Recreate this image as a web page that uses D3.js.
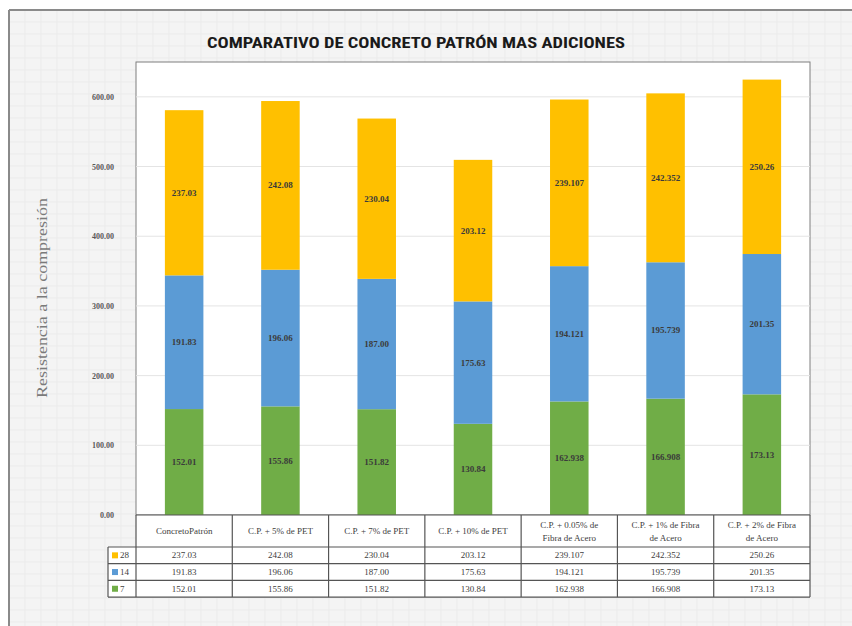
<!DOCTYPE html>
<html>
<head>
<meta charset="utf-8">
<script src="https://cdn.jsdelivr.net/npm/d3@7"></script>
<style>
  html, body { margin: 0; padding: 0; background: #ffffff; }
  svg { display: block; }
</style>
</head>
<body>
<svg id="chart" width="852" height="626"></svg>
<script>
// Mix designs compared in the chart (also the data-table header)
const categories = [
  "ConcretoPatrón",
  "C.P. + 5% de PET",
  "C.P. + 7% de PET",
  "C.P. + 10% de PET",
  "C.P. + 0.05% de\nFibra de Acero",
  "C.P. + 1% de Fibra\nde Acero",
  "C.P. + 2% de Fibra\nde Acero"
];
// Curing age (days) of each stacked series, bottom to top
const seriesNames = ["7", "14", "28"];
const values7  = [152.01, 155.86, 151.82, 130.84, 162.938, 166.908, 173.13];
const values14 = [191.83, 196.06, 187.00, 175.63, 194.121, 195.739, 201.35];
const values28 = [237.03, 242.08, 230.04, 203.12, 239.107, 242.352, 250.26];
// Labels printed in the table and on the bars
const labels7  = ["152.01", "155.86", "151.82", "130.84", "162.938", "166.908", "173.13"];
const labels14 = ["191.83", "196.06", "187.00", "175.63", "194.121", "195.739", "201.35"];
const labels28 = ["237.03", "242.08", "230.04", "203.12", "239.107", "242.352", "250.26"];
const yTicks = [0, 100, 200, 300, 400, 500, 600];
const yMax = 650;

const colors = { "7": "#70AD47", "14": "#5B9BD5", "28": "#FFC000" };
const seriesValues = { "7": values7, "14": values14, "28": values28 };
const seriesLabels = { "7": labels7, "14": labels14, "28": labels28 };

const svg = d3.select("#chart");
const W = 852, H = 626;

// Chart background: light sheet with faint cell lines
const bg = svg.append("g");
bg.append("rect").attr("x", 9).attr("y", 10).attr("width", W - 9).attr("height", H - 10)
  .attr("fill", "#f4f4f4");
const cellX = d3.range(9, W, 16);
const cellY = d3.range(10, H, 12);
bg.selectAll("line.cx").data(cellX).join("line")
  .attr("x1", d => d).attr("x2", d => d).attr("y1", 10).attr("y2", H)
  .attr("stroke", "#ebebeb").attr("stroke-width", 1);
bg.selectAll("line.cy").data(cellY).join("line")
  .attr("x1", 9).attr("x2", W).attr("y1", d => d).attr("y2", d => d)
  .attr("stroke", "#ebebeb").attr("stroke-width", 1);
// Frame edges (top and left)
bg.append("line").attr("x1", 9).attr("x2", W).attr("y1", 10).attr("y2", 10)
  .attr("stroke", "#8a8a8a").attr("stroke-width", 2);
bg.append("line").attr("x1", 9).attr("x2", 9).attr("y1", 10).attr("y2", H)
  .attr("stroke", "#8a8a8a").attr("stroke-width", 2);

// Plot area
const plot = { left: 136, right: 810, top: 62, bottom: 515 };
svg.append("rect")
  .attr("x", plot.left).attr("y", plot.top)
  .attr("width", plot.right - plot.left).attr("height", plot.bottom - plot.top)
  .attr("fill", "#ffffff").attr("stroke", "#7f7f7f").attr("stroke-width", 1);

const x = d3.scaleBand().domain(d3.range(categories.length))
  .range([plot.left, plot.right]).paddingInner(0.6).paddingOuter(0.3);
const colScale = d3.scaleBand().domain(d3.range(categories.length))
  .range([plot.left, plot.right]);
const y = d3.scaleLinear().domain([0, yMax]).range([plot.bottom, plot.top]);

// Gridlines
svg.append("g").selectAll("line").data(yTicks.filter(t => t > 0)).join("line")
  .attr("x1", plot.left).attr("x2", plot.right)
  .attr("y1", d => y(d)).attr("y2", d => y(d))
  .attr("stroke", "#e4e4e4").attr("stroke-width", 1);

// Y axis tick labels
const yAxis = d3.axisLeft(y).tickValues(yTicks).tickFormat(d3.format(".2f")).tickSize(0).tickPadding(22);
const yg = svg.append("g").attr("transform", `translate(${plot.left},0)`).call(yAxis);
yg.select(".domain").remove();
yg.selectAll("text")
  .attr("font-family", "'Liberation Serif', 'DejaVu Serif', serif")
  .attr("font-size", 8).attr("font-weight", "bold").attr("fill", "#595959");

// Y axis title
svg.append("text")
  .attr("transform", "translate(47,298) rotate(-90)")
  .attr("text-anchor", "middle")
  .attr("font-family", "'Liberation Serif', 'DejaVu Serif', serif")
  .attr("font-size", 15).attr("fill", "#7a7a7a")
  .attr("textLength", 200).attr("lengthAdjust", "spacingAndGlyphs")
  .text("Resistencia a la compresión");

// Title
svg.append("text")
  .attr("x", 416).attr("y", 48).attr("text-anchor", "middle")
  .attr("font-family", "'Liberation Sans Narrow', 'Roboto Condensed', 'Liberation Sans', sans-serif")
  .attr("font-size", 14).attr("font-weight", "bold").attr("fill", "#1a1a1a")
  .attr("textLength", 418).attr("lengthAdjust", "spacingAndGlyphs")
  .text("COMPARATIVO DE CONCRETO PATRÓN MAS ADICIONES");

// Stacked bars
const rows = categories.map((c, i) => {
  const r = { i };
  seriesNames.forEach(s => r[s] = seriesValues[s][i]);
  return r;
});
const stacked = d3.stack().keys(seriesNames)(rows);

const barG = svg.append("g");
stacked.forEach(layer => {
  const key = layer.key;
  barG.append("g").selectAll("rect").data(layer).join("rect")
    .attr("x", (d, i) => x(i))
    .attr("width", x.bandwidth())
    .attr("y", d => y(d[1]))
    .attr("height", d => y(d[0]) - y(d[1]))
    .attr("fill", colors[key]);
  barG.append("g").selectAll("text").data(layer).join("text")
    .attr("x", (d, i) => x(i) + x.bandwidth() / 2)
    .attr("y", d => (y(d[0]) + y(d[1])) / 2 + 3)
    .attr("text-anchor", "middle")
    .attr("font-family", "'Liberation Serif', 'DejaVu Serif', serif")
    .attr("font-size", 9).attr("font-weight", "bold").attr("fill", "#3b3b3b")
    .text((d, i) => seriesLabels[key][i]);
});

// Data table below the plot
const table = { top: 515, headerBottom: 547, rowH: 16.7, keyLeft: 108 };
const tableRows = ["28", "14", "7"];
const tableBottom = table.headerBottom + table.rowH * tableRows.length;
const tg = svg.append("g");
const lineColor = "#555555";
const fontSerif = "'Liberation Serif', 'DejaVu Serif', serif";

// white cells
tg.append("rect").attr("x", plot.left).attr("y", table.top)
  .attr("width", plot.right - plot.left).attr("height", tableBottom - table.top)
  .attr("fill", "#ffffff");
tg.append("rect").attr("x", table.keyLeft).attr("y", table.headerBottom)
  .attr("width", plot.left - table.keyLeft).attr("height", tableBottom - table.headerBottom)
  .attr("fill", "#ffffff");

// horizontal rules
const hLines = [table.top, table.headerBottom].concat(tableRows.map((r, k) => table.headerBottom + table.rowH * (k + 1)));
tg.selectAll("line.h").data(hLines).join("line")
  .attr("x1", (d, k) => k === 0 ? plot.left : table.keyLeft).attr("x2", plot.right)
  .attr("y1", d => d).attr("y2", d => d)
  .attr("stroke", lineColor).attr("stroke-width", 1.2);
// vertical rules
const vLines = d3.range(categories.length + 1).map(k => k < categories.length ? colScale(k) : plot.right);
tg.selectAll("line.v").data(vLines).join("line")
  .attr("x1", d => d).attr("x2", d => d)
  .attr("y1", table.top).attr("y2", tableBottom)
  .attr("stroke", lineColor).attr("stroke-width", 1.2);
tg.append("line").attr("x1", table.keyLeft).attr("x2", table.keyLeft)
  .attr("y1", table.headerBottom).attr("y2", tableBottom)
  .attr("stroke", lineColor).attr("stroke-width", 1.2);

// header text
categories.forEach((c, i) => {
  const parts = c.split("\n");
  const cx = colScale(i) + colScale.bandwidth() / 2;
  const midY = (table.top + table.headerBottom) / 2;
  const t = tg.append("text").attr("text-anchor", "middle")
    .attr("font-family", fontSerif).attr("font-size", 9).attr("fill", "#404040");
  parts.forEach((p, k) => {
    t.append("tspan").attr("x", cx)
      .attr("y", midY + 3 + (k - (parts.length - 1) / 2) * 13)
      .text(p);
  });
});

// value rows with legend keys
tableRows.forEach((s, k) => {
  const rowMid = table.headerBottom + table.rowH * (k + 0.5);
  tg.append("rect").attr("x", table.keyLeft + 4).attr("y", rowMid - 3)
    .attr("width", 6).attr("height", 6).attr("fill", colors[s]);
  tg.append("text").attr("x", table.keyLeft + 12).attr("y", rowMid + 3)
    .attr("font-family", fontSerif).attr("font-size", 9).attr("fill", "#404040")
    .text(s);
  seriesLabels[s].forEach((v, i) => {
    tg.append("text")
      .attr("x", colScale(i) + colScale.bandwidth() / 2).attr("y", rowMid + 3)
      .attr("text-anchor", "middle")
      .attr("font-family", fontSerif).attr("font-size", 9).attr("fill", "#404040")
      .text(v);
  });
});
</script>
</body>
</html>
